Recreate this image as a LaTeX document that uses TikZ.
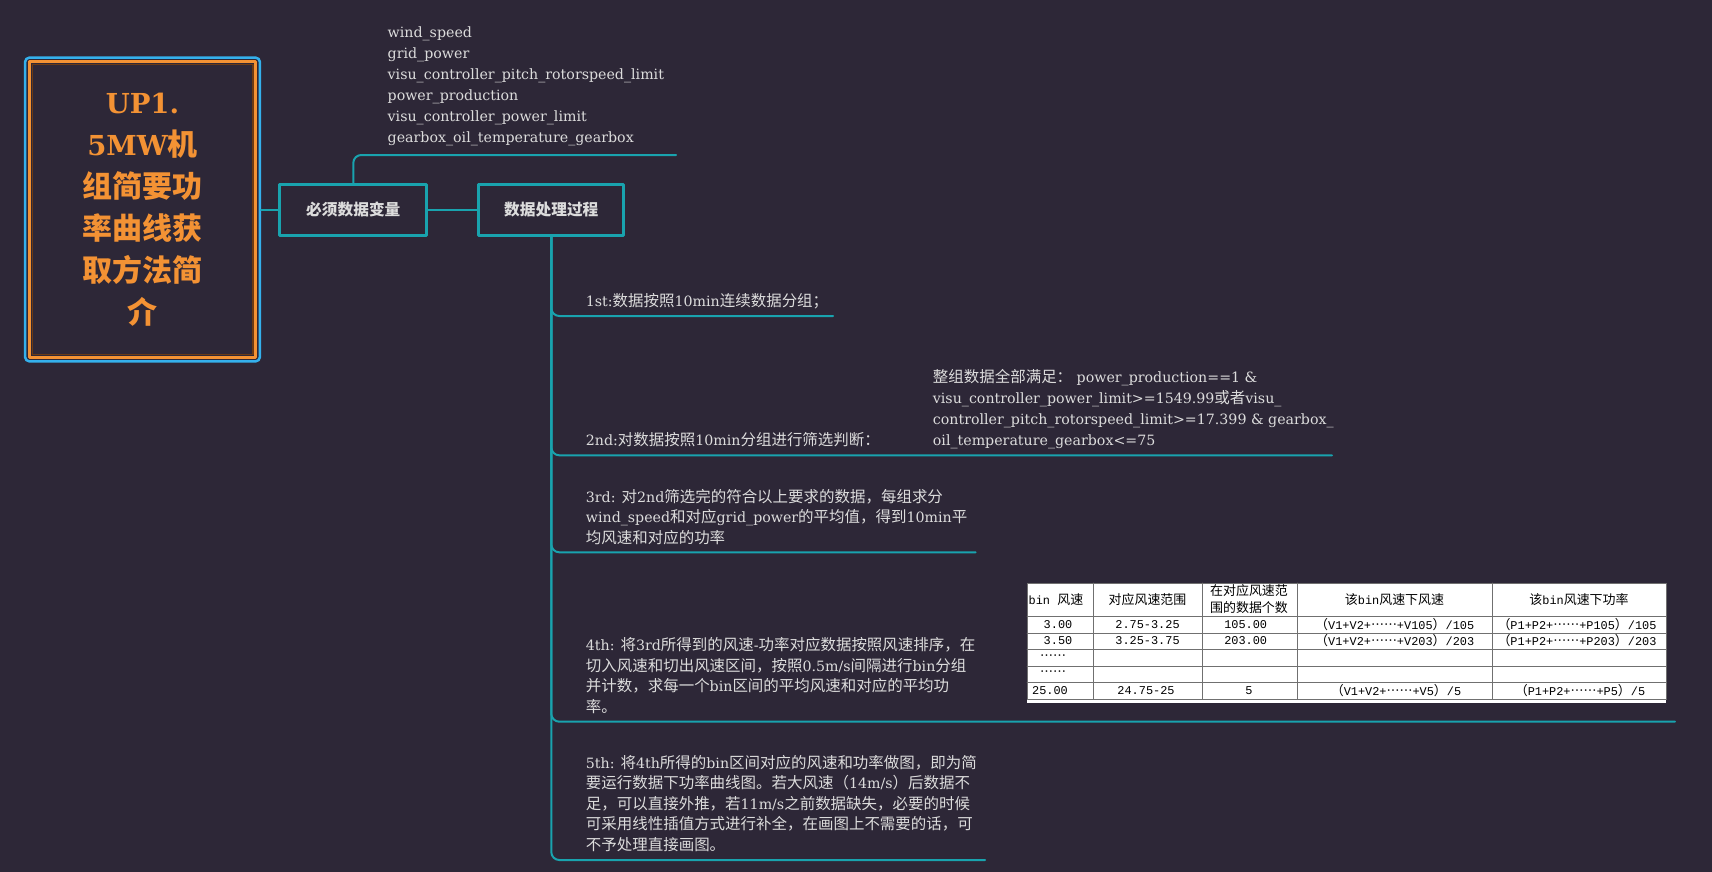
\documentclass[tikz,border=0pt]{standalone}
\usepackage{fontspec}
\setmainfont{DejaVu Serif}
\setmonofont{Liberation Mono}
\newfontfamily\zhfont[Scale=1.09,Script=CJK,Language=Chinese Simplified]{Noto Sans CJK SC}
\newfontfamily\zhdots[Scale=1.09,Script=CJK,Language=Chinese Simplified,CharacterWidth=Full]{Noto Sans CJK SC}
\newcommand{\zh}[1]{{\zhfont #1}}
\newcommand{\zhel}{{\zhdots ……}}
\usepackage{tikz}
\usetikzlibrary{fit}
\definecolor{sdsxtx}{rgb}{0.176470588235,0.152941176471,0.21568627451}
\definecolor{rzatae}{rgb}{0.0980392156863,0.639215686275,0.682352941176}
\definecolor{ftzsut}{rgb}{0.952941176471,0.572549019608,0.203921568627}
\definecolor{tubqec}{rgb}{0.203921568627,0.690196078431,0.925490196078}
\definecolor{dcdcdc}{rgb}{0.862745098039,0.862745098039,0.862745098039}
\definecolor{wbtaru}{rgb}{0.419607843137,0.227450980392,0.078431372549}
\definecolor{xqxqxq}{rgb}{0.439215686275,0.439215686275,0.439215686275}
\begin{document}
\begin{tikzpicture}[line cap=round,line join=round,x=1pt,y=-1pt,
  txt/.style={anchor=base west,inner sep=0pt,text=dcdcdc,font=\fontsize{14.2}{20.5}\selectfont},
  conn/.style={color=rzatae,line width=2pt},
  boxnode/.style={draw=rzatae,line width=3pt,minimum height=51.4pt,text=dcdcdc,font=\fontsize{14.4}{18}\selectfont\bfseries},
  cell/.style={inner sep=0pt,text=black,font=\fontsize{11.9}{17}\ttfamily}]
\useasboundingbox (0,0) rectangle (1712,872);
\fill[sdsxtx] (0,0) rectangle (1712,872);
% root
\draw (142.5,209.5) node[draw=ftzsut,line width=3pt,outer sep=0pt,minimum width=226pt,minimum height=295pt,align=center,text=ftzsut,font=\fontsize{27.5}{42}\selectfont\bfseries] (up) {UP1.\\5MW\zh{机}\\\zh{组简要功}\\\zh{率曲线获}\\\zh{取方法简}\\\zh{介}};
\node[fit=(up),inner sep=4.3pt,draw=tubqec,line width=2.5pt,rounded corners=4pt] (upframe) {};
\draw[wbtaru,line width=1.2pt] ([xshift=2.6pt,yshift=-2.6pt]up.north west) rectangle ([xshift=-2.6pt,yshift=2.6pt]up.south east);
\draw (353.3,210) node[boxnode,minimum width=146.7pt] (must) {\zh{必须数据变量}};
\draw (551.3,210) node[boxnode,minimum width=144.7pt] (proc) {\zh{数据处理过程}};
\draw[conn] (upframe.east) -- (upframe.east -| must.west);
\draw[conn] (must.east) -- (proc.west);
% variables
\coordinate (varend) at (676,155);
\draw[conn,rounded corners=8pt] (must.north) |- (varend);
\draw (387.5,37.6) node[txt] (var1) {wind\_speed};
\draw (387.5,58.6) node[txt] (var2) {grid\_power};
\draw (387.5,79.5) node[txt] (var3) {visu\_controller\_pitch\_rotorspeed\_limit};
\draw (387.5,100.4) node[txt] (var4) {power\_production};
\draw (387.5,121.4) node[txt] (var5) {visu\_controller\_power\_limit};
\draw (387.5,142.3) node[txt] (var6) {gearbox\_oil\_temperature\_gearbox};
% steps
\coordinate (b1) at (833,316);
\coordinate (b2) at (1332,455.3);
\coordinate (b3) at (975.6,552.3);
\coordinate (b4) at (1675,721.7);
\coordinate (b5) at (985,860);
\draw[conn,rounded corners=8pt] (proc.south) |- (b1);
\draw[conn,rounded corners=8pt] (proc.south) |- (b2);
\draw[conn,rounded corners=8pt] (proc.south) |- (b3);
\draw[conn,rounded corners=8pt] (proc.south) |- (b4);
\draw[conn,rounded corners=8pt] (proc.south) |- (b5);
\draw (585.7,306) node[txt] (st1) {1st:\zh{数据按照}10min\zh{连续数据分组；}};
\draw (585.7,445.5) node[txt] (st2) {2nd:\zh{对数据按照}10min\zh{分组进行筛选判断：}};
\draw (932.7,382.5) node[txt] (cond1) {\zh{整组数据全部满足：} power\_production==1 \&};
\draw (932.7,403.5) node[txt] (cond2) {visu\_controller\_power\_limit>=1549.99\zh{或者}visu\_};
\draw (932.7,424.5) node[txt] (cond3) {controller\_pitch\_rotorspeed\_limit>=17.399 \& gearbox\_};
\draw (932.7,445.5) node[txt] (cond4) {oil\_temperature\_gearbox<=75};
\draw (585.7,502) node[txt] (st3a) {3rd: \zh{对}2nd\zh{筛选完的符合以上要求的数据，每组求分}};
\draw (585.7,522.5) node[txt] (st3b) {wind\_speed\zh{和对应}grid\_power\zh{的平均值，得到}10min\zh{平}};
\draw (585.7,543) node[txt] (st3c) {\zh{均风速和对应的功率}};
\draw (585.7,650.5) node[txt] (st4a) {4th: \zh{将}3rd\zh{所得到的风速}-\zh{功率对应数据按照风速排序，在}};
\draw (585.7,671) node[txt] (st4b) {\zh{切入风速和切出风速区间，按照}0.5m/s\zh{间隔进行}bin\zh{分组}};
\draw (585.7,691.5) node[txt] (st4c) {\zh{并计数，求每一个}bin\zh{区间的平均风速和对应的平均功}};
\draw (585.7,712) node[txt] (st4d) {\zh{率。}};
\draw (585.7,768) node[txt] (st5a) {5th: \zh{将}4th\zh{所得的}bin\zh{区间对应的风速和功率做图，即为简}};
\draw (585.7,788.5) node[txt] (st5b) {\zh{要运行数据下功率曲线图。若大风速（}14m/s\zh{）后数据不}};
\draw (585.7,809) node[txt] (st5c) {\zh{足，可以直接外推，若}11m/s\zh{之前数据缺失，必要的时候}};
\draw (585.7,829.5) node[txt] (st5d) {\zh{可采用线性插值方式进行补全，在画图上不需要的话，可}};
\draw (585.7,850) node[txt] (st5e) {\zh{不予处理直接画图。}};
% bin table
\fill[white] (1027,583) rectangle (1666,703);
\draw[xqxqxq,line width=1pt] (1027,583) rectangle (1666,699);
\draw[xqxqxq,line width=0.8pt] (1027,616) -- (1666,616);
\draw[xqxqxq,line width=0.8pt] (1027,633) -- (1666,633);
\draw[xqxqxq,line width=0.8pt] (1027,649) -- (1666,649);
\draw[xqxqxq,line width=0.8pt] (1027,666) -- (1666,666);
\draw[xqxqxq,line width=0.8pt] (1027,682) -- (1666,682);
\draw[xqxqxq,line width=0.8pt] (1093,583) -- (1093,699);
\draw[xqxqxq,line width=0.8pt] (1202,583) -- (1202,699);
\draw[xqxqxq,line width=0.8pt] (1297,583) -- (1297,699);
\draw[xqxqxq,line width=0.8pt] (1492,583) -- (1492,699);
\draw (1028.5,600) node[cell,anchor=west] (h1) {bin \zh{风速}};
\draw (1147.5,600) node[cell] (h2) {\zh{对应风速范围}};
\draw (1249,599.5) node[cell,align=center] (h3) {\zh{在对应风速范}\\\zh{围的数据个数}};
\draw (1394.5,600) node[cell] (h4) {\zh{该}bin\zh{风速下风速}};
\draw (1579,600) node[cell] (h5) {\zh{该}bin\zh{风速下功率}};
\draw (1058,624.5) node[cell] (r1a) {3.00};
\draw (1147.5,624.5) node[cell] (r1b) {2.75-3.25};
\draw (1245.7,624.5) node[cell] (r1c) {105.00};
\draw (1394.7,624.5) node[cell] (r1d) {\zh{（}V1+V2+\zhel+V105\zh{）}/105};
\draw (1577,624.5) node[cell] (r1e) {\zh{（}P1+P2+\zhel+P105\zh{）}/105};
\draw (1058,641) node[cell] (r2a) {3.50};
\draw (1147.5,641) node[cell] (r2b) {3.25-3.75};
\draw (1245.7,641) node[cell] (r2c) {203.00};
\draw (1394.7,641) node[cell] (r2d) {\zh{（}V1+V2+\zhel+V203\zh{）}/203};
\draw (1577,641) node[cell] (r2e) {\zh{（}P1+P2+\zhel+P203\zh{）}/203};
\draw (1053,657.5) node[cell] (r3a) {\zhel};
\draw (1053,674) node[cell] (r4a) {\zhel};
\draw (1050,690.5) node[cell] (r5a) {25.00};
\draw (1146,690.5) node[cell] (r5b) {24.75-25};
\draw (1249,690.5) node[cell] (r5c) {5};
\draw (1396,690.5) node[cell] (r5d) {\zh{（}V1+V2+\zhel+V5\zh{）}/5};
\draw (1580,690.5) node[cell] (r5e) {\zh{（}P1+P2+\zhel+P5\zh{）}/5};
\end{tikzpicture}
\end{document}
